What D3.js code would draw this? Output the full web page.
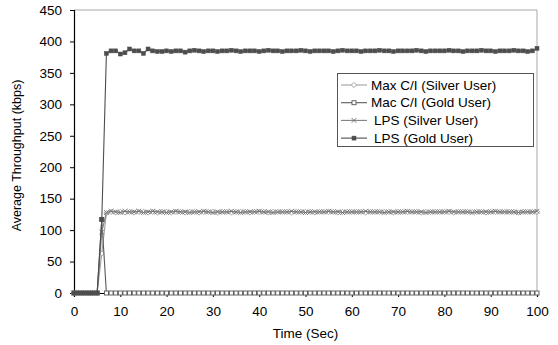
<!DOCTYPE html>
<html>
<head>
<meta charset="utf-8">
<script src="https://cdn.jsdelivr.net/npm/d3@7"></script>
<style>
  html, body { margin: 0; padding: 0; background: #fff; }
  svg { display: block; font-family: "Liberation Sans", Arial, sans-serif; }
</style>
</head>
<body>
<svg id="chart" width="558" height="345"></svg>
<script>
// Simulation time, one sample per second
const timeSec = d3.range(0, 101);

const xTicks = [0, 10, 20, 30, 40, 50, 60, 70, 80, 90, 100];
const yTicks = [0, 50, 100, 150, 200, 250, 300, 350, 400, 450];

// Average throughput (kbps) per scheduler / user class
const maxCISilver = [
  0, 0, 0, 0, 0, 0, 63, 127, 129, 128, 129, 128, 129, 128, 129, 129, 128, 129, 128, 129,
  129, 128, 129, 129, 128, 129, 129, 128, 129, 129, 129, 128, 129, 129, 128, 129, 129, 129, 128, 129,
  129, 129, 128, 129, 129, 129, 129, 128, 129, 129, 129, 129, 128, 129, 129, 129, 129, 128, 129, 129,
  129, 129, 129, 128, 129, 129, 129, 129, 129, 128, 129, 129, 129, 129, 129, 128, 129, 129, 129, 129,
  129, 129, 128, 129, 129, 129, 129, 129, 129, 128, 129, 129, 129, 129, 129, 129, 128, 129, 129, 129,
  129
];
const macCIGold = [
  0, 0, 0, 0, 0, 0, 117, 0, 0, 0, 0, 0, 0, 0, 0, 0, 0, 0, 0, 0,
  0, 0, 0, 0, 0, 0, 0, 0, 0, 0, 0, 0, 0, 0, 0, 0, 0, 0, 0, 0,
  0, 0, 0, 0, 0, 0, 0, 0, 0, 0, 0, 0, 0, 0, 0, 0, 0, 0, 0, 0,
  0, 0, 0, 0, 0, 0, 0, 0, 0, 0, 0, 0, 0, 0, 0, 0, 0, 0, 0, 0,
  0, 0, 0, 0, 0, 0, 0, 0, 0, 0, 0, 0, 0, 0, 0, 0, 0, 0, 0, 0,
  0
];
const lpsSilver = [
  0, 0, 0, 0, 0, 0, 97, 128, 130, 129, 128, 130, 129, 129, 130, 128, 129, 130, 129, 129,
  128, 129, 130, 129, 129, 128, 129, 129, 130, 129, 128, 129, 129, 129, 130, 129, 128, 129, 129, 129,
  130, 129, 129, 128, 129, 129, 129, 130, 129, 129, 128, 129, 129, 129, 129, 130, 129, 129, 128, 129,
  129, 129, 129, 130, 129, 129, 129, 128, 129, 129, 129, 129, 130, 129, 129, 129, 128, 129, 129, 129,
  129, 130, 129, 129, 129, 129, 128, 129, 129, 129, 129, 130, 129, 129, 129, 129, 128, 129, 129, 129,
  130
];
const lpsGold = [
  0, 0, 0, 0, 0, 0, 117, 381, 385, 385, 380, 382, 388, 385, 385, 381, 388, 385, 384, 384,
  385, 384, 385, 385, 383, 385, 386, 385, 384, 385, 385, 384, 385, 385, 386, 385, 384, 385, 385, 385,
  384, 385, 386, 385, 385, 384, 385, 385, 385, 386, 385, 384, 385, 385, 385, 385, 384, 385, 386, 385,
  385, 385, 384, 385, 385, 385, 386, 385, 385, 384, 385, 385, 385, 385, 386, 385, 384, 385, 385, 385,
  385, 386, 385, 385, 384, 385, 385, 385, 386, 385, 385, 384, 385, 385, 385, 386, 385, 385, 384, 385,
  389
];

const series = [
  { name: "Max C/I (Silver User)", values: maxCISilver, line: "#a0a0a0", marker: "diamond", mStroke: "#9a9a9a", mFill: "#fff", indent: 0 },
  { name: "Mac C/I (Gold User)",   values: macCIGold,   line: "#5a5a5a", marker: "square",  mStroke: "#555",    mFill: "#fff", indent: 0 },
  { name: "LPS (Silver User)",     values: lpsSilver,   line: "#808080", marker: "cross",   mStroke: "#707070", mFill: "none", indent: 1 },
  { name: "LPS (Gold User)",       values: lpsGold,     line: "#4d4d4d", marker: "square",  mStroke: "#4d4d4d", mFill: "#4d4d4d", indent: 1 }
];

const svg = d3.select("#chart");
const margin = { left: 74, right: 21, top: 10, bottom: 52 };
const W = 558, H = 345;

const x = d3.scaleLinear().domain([0, 100]).range([margin.left, W - margin.right]);
const y = d3.scaleLinear().domain([0, 450]).range([H - margin.bottom, margin.top]);

// Plot frame: grey top and right edges
svg.append("line")
  .attr("x1", x(0)).attr("x2", x(100)).attr("y1", y(450)).attr("y2", y(450))
  .attr("stroke", "#a8a8a8").attr("stroke-width", 1);
svg.append("line")
  .attr("x1", x(100)).attr("x2", x(100)).attr("y1", y(450)).attr("y2", y(0))
  .attr("stroke", "#a8a8a8").attr("stroke-width", 1);

// Axes
const xAxis = svg.append("g")
  .attr("transform", `translate(0,${y(0)})`)
  .call(d3.axisBottom(x).tickValues(xTicks).tickSize(4).tickPadding(9).tickFormat(d3.format("d")));
const yAxis = svg.append("g")
  .attr("transform", `translate(${x(0)},0)`)
  .call(d3.axisLeft(y).tickValues(yTicks).tickSize(4).tickPadding(8).tickFormat(d3.format("d")));

[xAxis, yAxis].forEach(g => {
  g.select(".domain").attr("stroke", "#000").attr("stroke-width", 1.2);
  g.selectAll(".tick line").attr("stroke", "#000");
  g.selectAll(".tick text").attr("fill", "#000").style("font-size", "13.5px")
    .style("font-family", "'Liberation Sans', Arial, sans-serif");
});

// Axis titles
svg.append("text")
  .attr("x", (x(0) + x(100)) / 2).attr("y", 338)
  .attr("text-anchor", "middle").style("font-size", "13.5px")
  .text("Time (Sec)");
svg.append("text")
  .attr("transform", `translate(21,${(y(0) + y(450)) / 2 + 4}) rotate(-90)`)
  .attr("text-anchor", "middle").style("font-size", "12.5px")
  .text("Average Throughput (kbps)");

// Marker drawing helper
function drawMarker(g, type, cx, cy, s) {
  if (type === "diamond") {
    g.append("path")
      .attr("d", `M${cx},${cy - 2.6}L${cx + 2.6},${cy}L${cx},${cy + 2.6}L${cx - 2.6},${cy}Z`)
      .attr("fill", s.mFill).attr("stroke", s.mStroke).attr("stroke-width", 0.9);
  } else if (type === "square") {
    g.append("rect")
      .attr("x", cx - 2).attr("y", cy - 2).attr("width", 4).attr("height", 4)
      .attr("fill", s.mFill).attr("stroke", s.mStroke).attr("stroke-width", s.mFill === "#fff" ? 0.9 : 0.5);
  } else if (type === "cross") {
    g.append("path")
      .attr("d", `M${cx - 2.4},${cy - 2.4}L${cx + 2.4},${cy + 2.4}M${cx - 2.4},${cy + 2.4}L${cx + 2.4},${cy - 2.4}`)
      .attr("stroke", s.mStroke).attr("stroke-width", 0.9).attr("fill", "none");
  }
}

const line = d3.line().x((d, i) => x(timeSec[i])).y(d => y(d));

series.forEach(s => {
  const g = svg.append("g");
  g.append("path")
    .datum(s.values)
    .attr("d", line)
    .attr("fill", "none")
    .attr("stroke", s.line)
    .attr("stroke-width", 1.1);
  s.values.forEach((v, i) => drawMarker(g, s.marker, x(timeSec[i]), y(v), s));
});

// Legend
const lg = svg.append("g");
lg.append("rect")
  .attr("x", 337.5).attr("y", 73.5).attr("width", 196).attr("height", 73)
  .attr("fill", "#fff").attr("stroke", "#555").attr("stroke-width", 1);
series.forEach((s, i) => {
  const cy = 85 + i * 17.7;
  lg.append("line")
    .attr("x1", 341).attr("x2", 367).attr("y1", cy).attr("y2", cy)
    .attr("stroke", s.line).attr("stroke-width", 1.1);
  drawMarker(lg, s.marker, 354, cy, s);
  lg.append("text")
    .attr("x", s.indent ? 374 : 371).attr("y", cy + 4.5)
    .style("font-size", "13.5px")
    .text(s.name);
});
</script>
</body>
</html>
